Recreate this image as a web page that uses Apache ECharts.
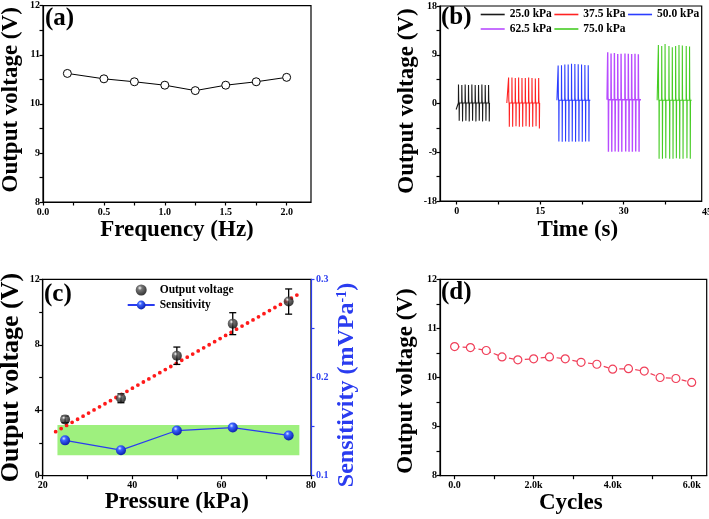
<!DOCTYPE html>
<html><head><meta charset="utf-8">
<script src="https://cdn.jsdelivr.net/npm/echarts@6/dist/echarts.min.js"></script>
<style>html,body{margin:0;padding:0;background:#fff}#c{width:709px;height:519px}</style>
</head><body><div id="c"></div>
<script>
// ---------- (a) frequency ----------
const freqHz = [0.2, 0.5, 0.75, 1.0, 1.25, 1.5, 1.75, 2.0];
const freqVoltage = [10.62, 10.51, 10.45, 10.38, 10.27, 10.38, 10.45, 10.54];
const aXLabels = [0, 0.5, 1.0, 1.5, 2.0];
const aXTicks = [0, 0.25, 0.5, 0.75, 1.0, 1.25, 1.5, 1.75, 2.0];
const vLabels = [8, 9, 10, 11, 12];
const vTicks = [8, 8.5, 9, 9.5, 10, 10.5, 11, 11.5, 12];

// ---------- (b) time traces ----------
const pressureNames = ['25.0 kPa', '37.5 kPa', '50.0 kPa', '62.5 kPa', '75.0 kPa'];
const groupSpan = [[-0.1, 6.0], [9.0, 15.0], [18.0, 24.0], [27.0, 33.1], [36.0, 42.2]];
const groupStart = [-1.1, 0.1, 0.6, 0.7, 0.6];
const baselines = [0.1, 0.1, 0.6, 0.7, 0.6];
const pulseTimes = [
  [0.3, 0.9, 1.5, 2.1, 2.7, 3.3, 3.9, 4.5, 5.1, 5.7],
  [9.3, 9.9, 10.5, 11.1, 11.7, 12.3, 12.9, 13.5, 14.1, 14.7],
  [18.2, 18.8, 19.4, 20.0, 20.6, 21.2, 21.8, 22.4, 23.0, 23.6],
  [27.1, 27.7, 28.3, 28.9, 29.5, 30.2, 30.8, 31.4, 32.0, 32.6],
  [36.2, 36.8, 37.4, 38.1, 38.7, 39.3, 39.9, 40.5, 41.2, 41.8]
];
const pulsePeaks = [
  [3.5, 3.4, 3.5, 3.4, 3.5, 3.4, 3.4, 3.5, 3.4, 3.4],
  [4.8, 4.8, 4.7, 4.8, 4.7, 4.7, 4.8, 4.7, 4.6, 4.7],
  [7.0, 7.05, 7.2, 7.2, 7.35, 7.3, 7.25, 7.2, 7.1, 7.05],
  [9.45, 9.25, 9.3, 9.15, 9.2, 9.25, 9.2, 9.15, 9.2, 9.1],
  [10.8, 10.6, 11.0, 10.6, 10.4, 10.6, 10.8, 10.7, 10.6, 10.5]
];
const pulseTroughs = [
  [-3.2, -3.3, -3.2, -3.3, -3.2, -3.3, -3.2, -3.3, -3.2, -3.3],
  [-4.3, -4.3, -4.2, -4.3, -4.3, -4.2, -4.3, -4.3, -4.2, -4.6],
  [-7.0, -7.05, -7.0, -7.05, -7.0, -7.05, -7.0, -7.05, -7.0, -7.0],
  [-8.9, -8.9, -8.85, -8.9, -8.9, -8.85, -8.9, -8.9, -8.85, -8.9],
  [-10.2, -10.2, -10.1, -10.2, -10.2, -10.1, -10.2, -10.2, -10.1, -10.2]
];
const bXLabels = [0, 15, 30];
const bXTicks = [0, 7.5, 15, 22.5, 30, 37.5];
const bYLabels = [-18, -9, 0, 9, 18];
const bYTicks = [-18, -13.5, -9, -4.5, 0, 4.5, 9, 13.5, 18];

// ---------- (c) pressure ----------
const pressureKPa = [25, 37.5, 50, 62.5, 75];
const outputVoltage = [3.44, 4.73, 7.33, 9.29, 10.64];
const outputError = [0.2, 0.27, 0.53, 0.67, 0.77];
const sensitivity = [0.136, 0.126, 0.146, 0.149, 0.141];
const fitX = [22.9, 77.9];
const fitY = [2.69, 11.2];
const bandX = [23.3, 77.4];
const bandSens = [0.1207, 0.1516];
const cXLabels = [20, 40, 60, 80];
const cXTicks = [20, 30, 40, 50, 60, 70, 80];
const cYLabels = [0, 4, 8, 12];
const cYTicks = [0, 2, 4, 6, 8, 10, 12];
const cY2Labels = [0.1, 0.2, 0.3];
const cY2Ticks = [0.1, 0.15, 0.2, 0.25, 0.3];

// ---------- (d) cycles ----------
const cycles = [0, 400, 800, 1200, 1600, 2000, 2400, 2800, 3200, 3600, 4000, 4400, 4800, 5200, 5600, 6000];
const cycleVoltage = [10.63, 10.61, 10.55, 10.42, 10.36, 10.38, 10.42, 10.38, 10.31, 10.27, 10.17, 10.18, 10.13, 10.00, 9.98, 9.90];
const dXLabels = [0, 2000, 4000, 6000];
const dXTicks = [0, 1000, 2000, 3000, 4000, 5000, 6000];

// ---------- styles ----------
const FF = 'Liberation Serif';
const tickFont = { fontFamily: FF, fontWeight: 'bold', fontSize: 10, color: '#000' };
const nameFont = (size, extra) => Object.assign({ fontFamily: FF, fontWeight: 'bold', fontSize: size, color: '#000' }, extra || {});
const traceColors = ['#1a1a1a', '#ff2222', '#2b3dff', '#b84cff', '#46cc24'];
const sensBlue = '#2a3cf0';

function axis(o) {
  const color = o.color || '#000';
  return Object.assign({
    type: 'value', min: o.min, max: o.max, gridIndex: o.grid,
    name: o.name, nameLocation: 'middle', nameGap: o.nameGap, nameRotate: o.nameRotate,
    nameMoveOverlap: false,
    nameTextStyle: nameFont(o.nameSize || 23, o.nameExtra),
    position: o.position,
    axisLine: { show: true, onZero: false, lineStyle: { color: color, width: 1.2 } },
    axisTick: { show: true, inside: false, length: 3.5, customValues: o.ticks, lineStyle: { color: color, width: 1.2 } },
    axisLabel: Object.assign({}, tickFont, { color: color, margin: o.margin || 5, customValues: o.labels, formatter: o.fmt }),
    splitLine: { show: false }, minorTick: { show: false }
  });
}

function buildWave(g) {
  const pts = [[groupSpan[g][0], groupStart[g]]];
  const b = baselines[g];
  pulseTimes[g].forEach((t, i) => {
    pts.push([t, b], [t + 0.02, pulsePeaks[g][i]], [t + 0.06, b + 0.5], [t + 0.13, b - 0.3], [t + 0.15, pulseTroughs[g][i]], [t + 0.19, b]);
  });
  pts.push([groupSpan[g][1], b]);
  return pts;
}

const blackBall = { type: 'radial', x: 0.38, y: 0.32, r: 0.7, colorStops: [{ offset: 0, color: '#ffffff' }, { offset: 0.28, color: '#555' }, { offset: 1, color: '#000' }] };
const blueBall = { type: 'radial', x: 0.38, y: 0.32, r: 0.7, colorStops: [{ offset: 0, color: '#d8e4ff' }, { offset: 0.3, color: '#3a62ff' }, { offset: 1, color: '#0a1fa8' }] };

const chart = echarts.init(document.getElementById('c'), null, { renderer: 'canvas' });

const traceSeries = pressureNames.map((n, g) => ({
  type: 'line', name: n, xAxisIndex: 1, yAxisIndex: 1, data: buildWave(g),
  symbol: 'none', showSymbol: false, sampling: null,
  lineStyle: { color: traceColors[g], width: g === 3 ? 1.4 : 1.1 },
  itemStyle: { color: traceColors[g] }
}));

const option = {
  animation: false,
  backgroundColor: '#fff',
  grid: [
    { left: 43, top: 5.7, width: 268, height: 196.3, show: true, borderColor: '#000', borderWidth: 1.2, backgroundColor: 'transparent', outerBoundsMode: 'none', containLabel: false },
    { left: 440, top: 6, width: 261.7, height: 195, show: true, borderColor: '#000', borderWidth: 1.2, backgroundColor: 'transparent', outerBoundsMode: 'none', containLabel: false },
    { left: 42.7, top: 279.3, width: 268.3, height: 196.4, show: true, borderColor: '#000', borderWidth: 1.2, backgroundColor: 'transparent', outerBoundsMode: 'none', containLabel: false },
    { left: 440, top: 279.3, width: 266.7, height: 196.4, show: true, borderColor: '#000', borderWidth: 1.2, backgroundColor: 'transparent', outerBoundsMode: 'none', containLabel: false }
  ],
  xAxis: [
    axis({ grid: 0, min: 0, max: 2.2, ticks: aXTicks, labels: aXLabels, fmt: v => v.toFixed(1), name: 'Frequency (Hz)', nameGap: 17 }),
    axis({ grid: 1, min: -3, max: 44, ticks: bXTicks, labels: bXLabels, fmt: v => String(v), name: 'Time (s)', nameGap: 18, nameExtra: { padding: [0, 0, 0, 14] } }),
    axis({ grid: 2, min: 20, max: 80, ticks: cXTicks, labels: cXLabels, fmt: v => String(v), name: 'Pressure (kPa)', nameGap: 15 }),
    axis({ grid: 3, min: -370, max: 6380, ticks: dXTicks, labels: dXLabels, fmt: v => v === 0 ? '0.0' : (v / 1000).toFixed(1) + 'k', name: 'Cycles', nameGap: 16, nameExtra: { padding: [0, 5, 0, 0] } })
  ],
  yAxis: [
    axis({ grid: 0, min: 8, max: 12, ticks: vTicks, labels: vLabels, fmt: v => String(v), name: 'Output voltage (V)', nameGap: 20, nameRotate: 90, margin: 3, nameExtra: { padding: [0, 0, 0, 8] } }),
    axis({ grid: 1, min: -18, max: 18, ticks: bYTicks, labels: bYLabels, fmt: v => String(v), name: 'Output voltage (V)', nameGap: 21, nameRotate: 90, margin: 3, nameExtra: { padding: [0, 0, 0, 5] } }),
    axis({ grid: 2, min: 0, max: 12, ticks: cYTicks, labels: cYLabels, fmt: v => String(v), name: 'Output voltage (V)', nameGap: 18, nameRotate: 90, margin: 3, nameSize: 26 }),
    axis({ grid: 2, min: 0.1, max: 0.3, ticks: cY2Ticks, labels: cY2Labels, fmt: v => v.toFixed(1), position: 'right', color: sensBlue, name: 'Sensitivity (mVPa{sup|-1})', nameGap: 24, nameRotate: 90, margin: 5, nameSize: 24,
      nameExtra: { color: sensBlue, padding: [0, 15, 0, 0], rich: { sup: { fontFamily: FF, fontWeight: 'bold', fontSize: 14, color: sensBlue, verticalAlign: 'top', padding: [0, 0, 10, 0] } } } }),
    axis({ grid: 3, min: 8, max: 12, ticks: vTicks, labels: vLabels, fmt: v => String(v), name: 'Output voltage (V)', nameGap: 22, nameRotate: 90, margin: 3, nameExtra: { padding: [0, 7, 0, 0] } })
  ],
  legend: [
    { data: pressureNames, left: 480.7, top: 8.5, width: 225, icon: 'rect', itemWidth: 24, itemHeight: 1.6, itemGap: 2.5, padding: 0,
      textStyle: { fontFamily: FF, fontWeight: 'bold', fontSize: 11.5, color: '#000' }, inactiveColor: '#ccc' },
    { data: ['Output voltage', 'Sensitivity'], orient: 'vertical', left: 126.7, top: 284, itemWidth: 27, itemHeight: 11, itemGap: 3, padding: 0,
      textStyle: { fontFamily: FF, fontWeight: 'bold', fontSize: 11.5, color: '#000' } }
  ],
  graphic: [
    { type: 'text', left: 45, top: 6, style: { text: '(a)', font: 'bold 25px "Liberation Serif"', fill: '#000' } },
    { type: 'text', left: 441, top: 5.5, style: { text: '(b)', font: 'bold 25px "Liberation Serif"', fill: '#000' } },
    { type: 'text', left: 44, top: 282, style: { text: '(c)', font: 'bold 25px "Liberation Serif"', fill: '#000' } },
    { type: 'text', left: 441, top: 280.5, style: { text: '(d)', font: 'bold 25px "Liberation Serif"', fill: '#000' } },
    { type: 'text', x: 702, y: 207, style: { text: '45', font: 'bold 10px "Liberation Serif"', fill: '#000' } }
  ],
  series: [
    { type: 'line', name: 'freq', xAxisIndex: 0, yAxisIndex: 0, data: freqHz.map((f, i) => [f, freqVoltage[i]]),
      symbol: 'circle', symbolSize: 8, lineStyle: { color: '#000', width: 1 }, itemStyle: { color: '#fff', borderColor: '#000', borderWidth: 1 } },
    ...traceSeries,
    { type: 'line', name: 'fit', xAxisIndex: 2, yAxisIndex: 2, data: fitX.map((x, i) => [x, fitY[i]]), symbol: 'none', z: 3,
      lineStyle: { color: '#ff1a1a', width: 3.8, type: [0, 6.3], cap: 'round' } },
    { type: 'custom', name: 'err', xAxisIndex: 2, yAxisIndex: 2, z: 4,
      data: pressureKPa.map((p, i) => [p, outputVoltage[i], outputError[i]]),
      renderItem: function (params, api) {
        const x = api.value(0), y = api.value(1), e = api.value(2);
        const t = api.coord([x, y + e]), b = api.coord([x, y - e]);
        const w = 3.5, st = { stroke: '#000', lineWidth: 1.3 };
        return { type: 'group', children: [
          { type: 'line', shape: { x1: t[0], y1: t[1], x2: b[0], y2: b[1] }, style: st },
          { type: 'line', shape: { x1: t[0] - w, y1: t[1], x2: t[0] + w, y2: t[1] }, style: st },
          { type: 'line', shape: { x1: b[0] - w, y1: b[1], x2: b[0] + w, y2: b[1] }, style: st }
        ] };
      } },
    { type: 'scatter', name: 'Output voltage', xAxisIndex: 2, yAxisIndex: 2, z: 5, data: pressureKPa.map((p, i) => [p, outputVoltage[i]]),
      symbol: 'circle', symbolSize: 10, itemStyle: { color: blackBall } },
    { type: 'line', name: 'Sensitivity', xAxisIndex: 2, yAxisIndex: 3, z: 5, data: pressureKPa.map((p, i) => [p, sensitivity[i]]),
      symbol: 'circle', symbolSize: 10, lineStyle: { color: sensBlue, width: 1.2 }, itemStyle: { color: blueBall },
      markArea: { silent: true, itemStyle: { color: '#9ef07e', opacity: 1 }, z: 1,
        data: [[{ coord: [bandX[0], bandSens[0]] }, { coord: [bandX[1], bandSens[1]] }]] } },
    { type: 'line', name: 'cycles', xAxisIndex: 3, yAxisIndex: 4, data: cycles.map((c, i) => [c, cycleVoltage[i]]),
      symbol: 'circle', symbolSize: 8, lineStyle: { color: '#f0405a', width: 1.2, type: [5, 3] },
      itemStyle: { color: '#fff', borderColor: '#f0405a', borderWidth: 1.2 } }
  ]
};
chart.setOption(option);
</script></body></html>
